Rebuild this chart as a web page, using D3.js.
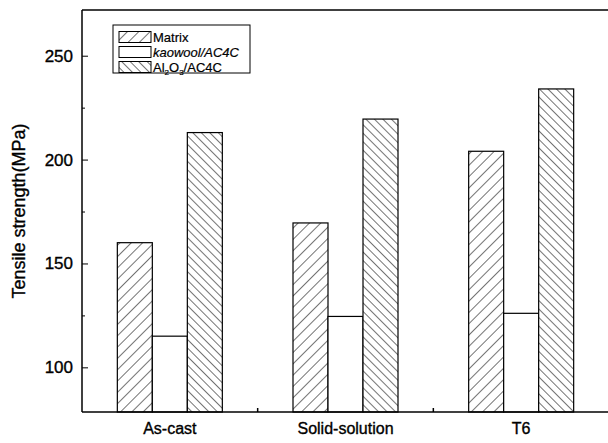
<!DOCTYPE html>
<html><head><meta charset="utf-8">
<script src="https://cdn.jsdelivr.net/npm/d3@7"></script>
<style>body{margin:0;background:#fff}svg{display:block}text{font-family:"Liberation Sans",Arial,sans-serif;fill:#000;stroke:#000;stroke-width:0.35px}</style>
</head><body><svg id="c" width="608" height="443"></svg>
<script>
const categories = ["As-cast", "Solid-solution", "T6"];
const seriesNames = ["Matrix", "kaowool/AC4C", "Al2O3/AC4C"];
const matrixVals = [160, 169.5, 204];
const kaowoolVals = [115, 124.5, 126];
const aluminaVals = [213, 219.5, 234];
const yTicks = [100, 150, 200, 250];
const yMinor = [125, 175, 225];

const svg = d3.select("#c");
const L = 82, R = 609, T = 10, B = 412;
const y = d3.scaleLinear().domain([78.5, 272]).range([B, T]);
const x = d3.scaleBand().domain(categories).range([L, R]);
const barW = 35;

const defs = svg.append("defs");
function hatch(id, angle, gap) {
  const p = defs.append("pattern").attr("id", id).attr("patternUnits", "userSpaceOnUse")
    .attr("width", gap).attr("height", 20).attr("patternTransform", `rotate(${angle})`);
  p.append("rect").attr("width", gap).attr("height", 20).attr("fill", "#fff");
  p.append("line").attr("x1", 0).attr("y1", 0).attr("x2", 0).attr("y2", 20)
    .attr("stroke", "#000").attr("stroke-width", 1.1);
}
hatch("hMatrix", 45, 8);
hatch("hAl", -45, 6);
const fills = ["url(#hMatrix)", "#fff", "url(#hAl)"];
const data = [matrixVals, kaowoolVals, aluminaVals];

const g = svg.append("g");
data.forEach((vals, si) => {
  g.selectAll(null).data(categories).enter().append("rect")
    .attr("x", d => x(d) + x.bandwidth() / 2 - 1.5 * barW + si * barW)
    .attr("width", barW)
    .attr("y", (d, i) => y(vals[i]))
    .attr("height", (d, i) => B - y(vals[i]))
    .attr("fill", fills[si]).attr("stroke", "#000").attr("stroke-width", 1.2);
});

// frame
svg.append("line").attr("x1", L).attr("x2", R).attr("y1", T).attr("y2", T).attr("stroke", "#000").attr("stroke-width", 1.5);
svg.append("line").attr("x1", L).attr("x2", R).attr("y1", B).attr("y2", B).attr("stroke", "#000").attr("stroke-width", 1.5);

// y axis
const yAxis = d3.axisLeft(y).tickValues(yTicks).tickSize(-6).tickPadding(9).tickFormat(d3.format("d"));
const ya = svg.append("g").attr("transform", `translate(${L},0)`).call(yAxis);
ya.select(".domain").attr("d", `M0,${T}V${B}`).attr("stroke-width", 1.5);
ya.selectAll("text").attr("font-size", 17).attr("font-family", null);
svg.append("g").attr("transform", `translate(${L},0)`)
  .call(d3.axisLeft(y).tickValues(yMinor).tickSize(-3).tickFormat(""))
  .select(".domain").remove();

// x axis
const xa = svg.append("g").attr("transform", `translate(0,${B})`)
  .call(d3.axisBottom(x).tickSize(0).tickPadding(11));
xa.select(".domain").remove();
xa.selectAll("text").attr("font-size", 16).attr("font-family", null);
const bounds = categories.slice(1).map(c => x(c));
svg.selectAll(null).data(bounds).enter().append("line")
  .attr("x1", d => d).attr("x2", d => d).attr("y1", B).attr("y2", B - 4)
  .attr("stroke", "#000").attr("stroke-width", 1.5);

// y title
svg.append("text").attr("transform", `translate(25,${(T + B) / 2}) rotate(-90)`)
  .attr("text-anchor", "middle").attr("font-size", 18).text("Tensile strength(MPa)");

// legend
const lg = svg.append("g");
lg.append("rect").attr("x", 113).attr("y", 25).attr("width", 137).attr("height", 48)
  .attr("fill", "#fff").attr("stroke", "#000").attr("stroke-width", 1);
seriesNames.forEach((n, i) => {
  const yy = 37 + i * 15;
  lg.append("rect").attr("x", 119).attr("y", yy - 5.5).attr("width", 32).attr("height", 11)
    .attr("fill", fills[i]).attr("stroke", "#000").attr("stroke-width", 1);
  const t = lg.append("text").attr("x", 153).attr("y", yy + 4.5).attr("font-size", 13)
    .style("stroke-width", "0.2px");
  if (i === 1) t.attr("font-style", "italic").text(n);
  else if (i === 2) {
    t.append("tspan").text("Al");
    t.append("tspan").attr("dy", 3).attr("font-size", 8).text("2");
    t.append("tspan").attr("dy", -3).text("O");
    t.append("tspan").attr("dy", 3).attr("font-size", 8).text("3");
    t.append("tspan").attr("dy", -3).text("/AC4C");
  } else t.text(n);
});
</script></body></html>
